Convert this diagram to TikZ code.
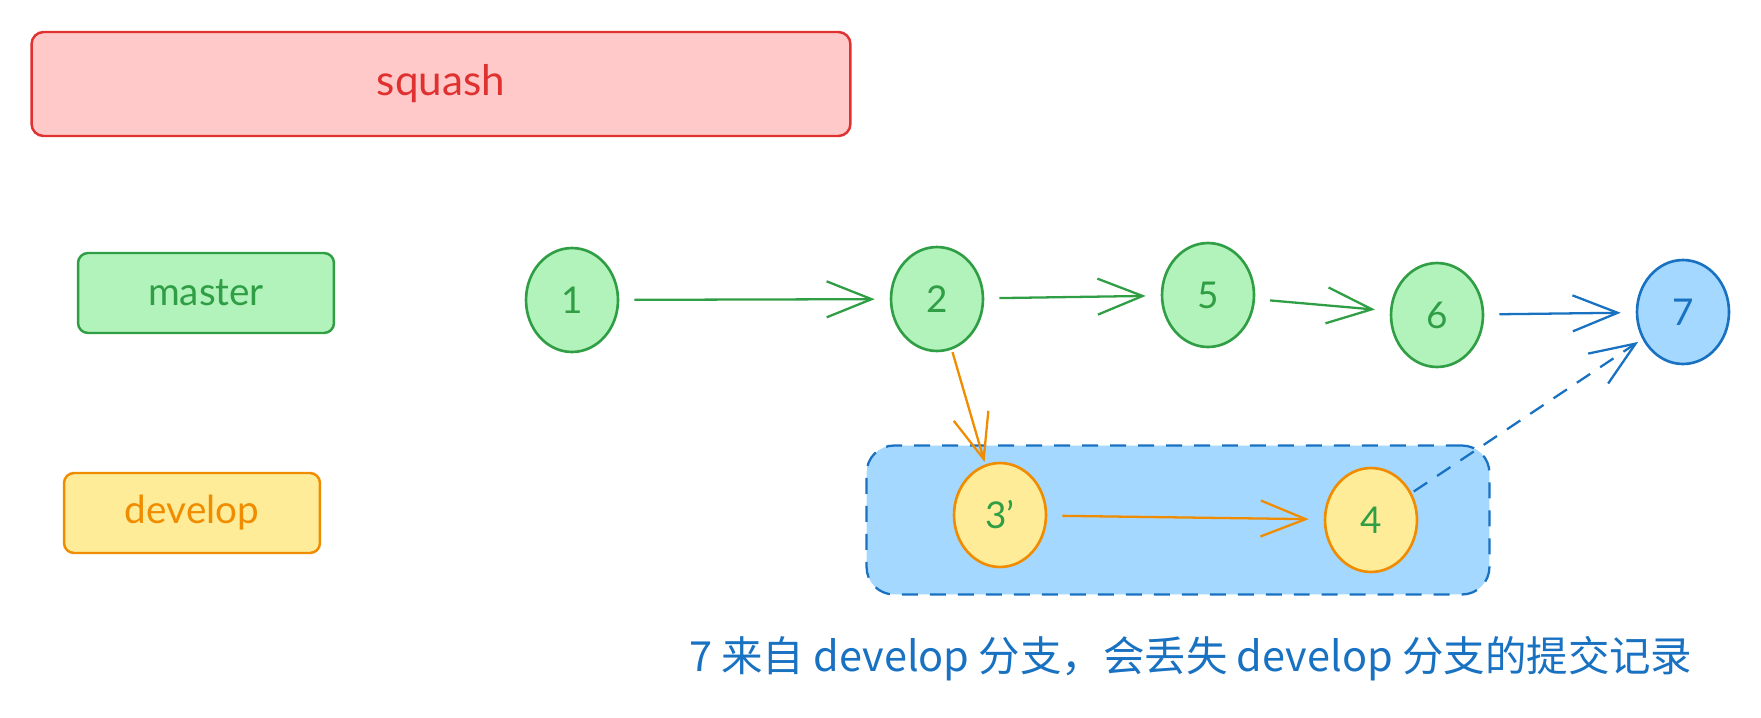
\documentclass[tikz,border=0pt]{standalone}
\usepackage{fontspec}
\setmainfont{Lato}
\newfontfamily\cjk{Noto Sans CJK SC}
\usetikzlibrary{arrows.meta,shapes.geometric}
\definecolor{exgreen}{HTML}{2F9E44}
\definecolor{exgreenbg}{HTML}{B2F2BB}
\definecolor{exred}{HTML}{E03131}
\definecolor{exredbg}{HTML}{FFC9C9}
\definecolor{exorange}{HTML}{F08C00}
\definecolor{exyellowbg}{HTML}{FFEC99}
\definecolor{exblue}{HTML}{1971C2}
\definecolor{exbluebg}{HTML}{A5D8FF}
\tikzset{
  labelbox/.style={rounded corners=0.2cm, line width=1.4pt,
                   minimum width=5.12cm, minimum height=1.6cm,
                   font=\fontsize{22}{26}\selectfont},
  squashbox/.style={draw=exred, fill=exredbg, text=exred, rounded corners=0.24cm,
                    line width=1.4pt, minimum width=16.38cm, minimum height=2.08cm,
                    font=\fontsize{24}{28}\selectfont},
  commit/.style={ellipse, line width=1.5pt, minimum width=1.84cm,
                 minimum height=2.08cm, inner sep=0pt, text=exgreen,
                 font=\fontsize{21}{25}\selectfont},
  mcommit/.style={commit, draw=exgreen, fill=exgreenbg},
  dcommit/.style={commit, draw=exorange, fill=exyellowbg},
  groupbox/.style={draw=exblue, fill=exbluebg, dashed, dash pattern=on 0.32cm off 0.24cm,
                   line width=1.3pt, rounded corners=0.55cm,
                   minimum width=12.46cm, minimum height=2.98cm},
  commitarr/.style={-{Straight Barb[length=0.9cm,width=0.72cm]}, line width=1.3pt,
                    shorten <=0.3cm, shorten >=0.3cm},
  linkarr/.style={commitarr, exblue, dashed, dash pattern=on 0.32cm off 0.24cm}
}

\begin{document}
\begin{tikzpicture}[x=0.02cm, y=-0.02cm]
  \useasboundingbox (0,0) rectangle (1761,717);

  % branch labels
  \node[squashbox] (squash) at (441,84) {squash};
  \node[labelbox, draw=exgreen, fill=exgreenbg, text=exgreen] (master) at (206,293) {master};
  \node[labelbox, draw=exorange, fill=exyellowbg, text=exorange] (develop) at (192,513) {develop};

  % squashed develop commits
  \node[groupbox] (grp) at (1178,520) {};

  % commits
  \node[mcommit] (c1) at (572,300) {1};
  \node[mcommit] (c2) at (937,299) {2};
  \node[mcommit] (c5) at (1208,295) {5};
  \node[mcommit] (c6) at (1437,315) {6};
  \node[commit, draw=exblue, fill=exbluebg, text=exblue] (c7) at (1683,312) {7};
  \node[dcommit] (c3) at (1000,515) {3'};
  \node[dcommit] (c4) at (1371,520) {4};

  \draw[commitarr, exgreen] (c1) -- (c2);
  \draw[commitarr, exgreen] (c2) -- (c5);
  \draw[commitarr, exgreen] (c5) -- (c6);
  \draw[commitarr, exblue] (c6) -- (c7);
  \draw[commitarr, exorange, shorten <=0.05cm, shorten >=0.05cm] (c2) -- (c3);
  \draw[commitarr, exorange] (c3) -- (c4);
  \draw[linkarr, shorten <=0.05cm, shorten >=0.1cm] (c4) -- (c7);

  \node[anchor=base west, text=exblue, font=\cjk\fontsize{23.6}{28}\selectfont] (note)
    at (683,671) {7 来自 develop 分支，会丢失 develop 分支的提交记录};
\end{tikzpicture}
\end{document}
